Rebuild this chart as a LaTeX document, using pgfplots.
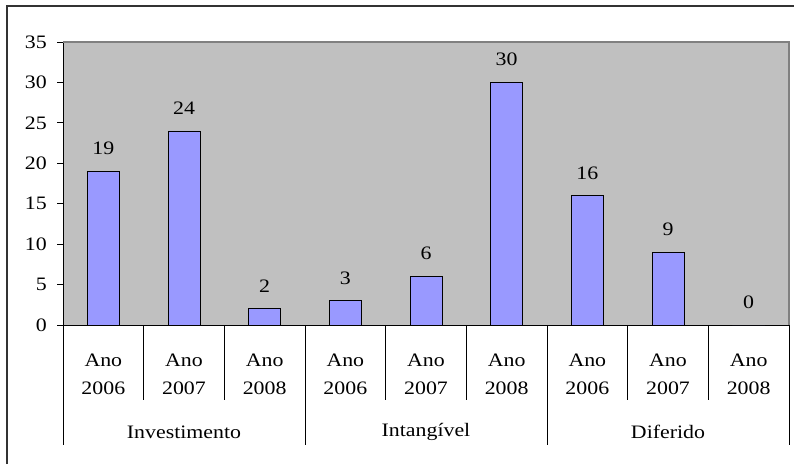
\documentclass[border=0pt]{standalone}
\usepackage{pgfplots}
\pgfplotsset{compat=1.18}
\usepackage{fontspec}
\setmainfont{Liberation Serif}[FakeStretch=1.15]
\definecolor{plotbg}{HTML}{C0C0C0}
\definecolor{barfill}{HTML}{9999FF}
\definecolor{frameg}{HTML}{808080}
\begin{document}
\begin{tikzpicture}[font=\fontsize{19}{27}\selectfont]
\begin{axis}[
  at={(63pt,139pt)}, anchor=south west,
  scale only axis, width=726pt, height=283pt,
  xmin=-0.5, xmax=8.5, ymin=0, ymax=35,
  axis x line*=bottom, axis y line*=left,
  axis line style={black, line width=1pt, -},
  axis background/.style={fill=plotbg},
  ytick={0,5,...,35},
  tick align=outside, major tick length=6pt,
  ytick style={black, line width=1pt},
  xtick={0,...,8},
  xticklabels={{Ano\\2006},{Ano\\2007},{Ano\\2008},{Ano\\2006},{Ano\\2007},{Ano\\2008},{Ano\\2006},{Ano\\2007},{Ano\\2008}},
  xtick style={draw=none},
  /pgf/number format/assume math mode=true,
  yticklabel style={inner sep=0pt, xshift=-10pt},
  xticklabel style={align=center, anchor=north, inner sep=0pt, yshift=-23pt, font=\fontsize{19}{28}\selectfont},
  yticklabel style={font=\fontsize{19}{27}\selectfont},
  clip=false,
  ybar, bar width=32pt,
  nodes near coords,
  nodes near coords style={anchor=south, inner sep=0pt, yshift=16pt, font=\fontsize{19}{27}\selectfont, black},
]
\addplot[fill=barfill, draw=black, line width=0.8pt] coordinates {(0,19) (1,24) (2,2) (3,3) (4,6) (5,30) (6,16) (7,9) (8,0)};
\draw[frameg, line width=1.5pt] (rel axis cs:0,1) -- (rel axis cs:1,1) -- (rel axis cs:1,0);
\pgfplotsinvokeforeach{0.5,1.5,3.5,4.5,6.5,7.5}{
  \draw[black, line width=1pt] (axis cs:#1,0) -- ([yshift=-75pt]axis cs:#1,0);
}
\pgfplotsinvokeforeach{-0.5,2.5,5.5,8.5}{
  \draw[black, line width=1pt] (axis cs:#1,0) -- ([yshift=-120pt]axis cs:#1,0);
}
\node[yshift=-107pt] at (axis cs:1,0) {Investimento};
\node[yshift=-107pt] at (axis cs:4,0) {Intangível};
\node[yshift=-107pt] at (axis cs:7,0) {Diferido};
\end{axis}
\draw[black!80, line width=2pt] (6.5pt,0pt) -- (6.5pt,457.5pt) -- (794pt,457.5pt);
\pgfresetboundingbox
\path[use as bounding box] (0pt,0pt) rectangle (794pt,464pt);
\end{tikzpicture}
\end{document}
